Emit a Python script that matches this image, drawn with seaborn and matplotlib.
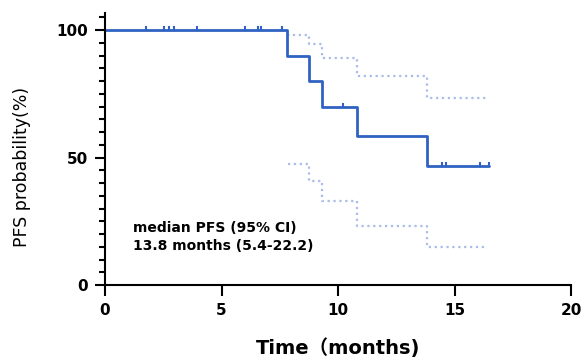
import numpy as np
import pandas as pd
import seaborn as sns
import matplotlib.pyplot as plt
from matplotlib.path import Path
from matplotlib.ticker import MultipleLocator

# Kaplan-Meier step curve (months, %)
step_times = [0, 7.8, 8.75, 9.3, 10.8, 13.8, 16.5]
surv = [100, 90, 80, 70, 58.3, 46.7, 46.7]

# censored observations
censor_times = [1.78, 2.55, 2.76, 2.96, 3.96, 6.0, 6.55, 6.7, 7.6, 10.2, 14.45, 14.65, 16.1, 16.5]
censor_surv = [100, 100, 100, 100, 100, 100, 100, 100, 100, 70, 46.7, 46.7, 46.7, 46.7]

# 95% confidence band
upper_times = [7.8, 8.75, 9.3, 10.8, 13.8, 16.5]
upper_vals = [98, 94.5, 89, 82, 73.2, 73.2]
lower_times = [7.85, 8.75, 9.3, 10.8, 13.8, 16.4]
lower_vals = [47.4, 40.8, 32.9, 23.3, 15, 15]

annot_lines = ["median PFS (95% CI)", "13.8 months (5.4-22.2)"]

sns.set_style("ticks")
plt.rcParams['font.family'] = ['DejaVu Sans', 'Noto Sans CJK SC']
plt.rcParams['text.color'] = 'black'
plt.rcParams['axes.labelcolor'] = 'black'
plt.rcParams['xtick.color'] = 'black'
plt.rcParams['ytick.color'] = 'black'
plt.rcParams['axes.edgecolor'] = 'black'

main_color = "#2f62c2"
ci_color = "#a9bde8"

fig = plt.figure(figsize=(5.86, 3.61), dpi=100)
ax = fig.add_axes([0.1792, 0.2105, 0.7952, 0.7535])

sns.lineplot(x=upper_times, y=upper_vals, drawstyle="steps-post", color=ci_color,
             linestyle=":", linewidth=1.6, ax=ax)
sns.lineplot(x=lower_times, y=lower_vals, drawstyle="steps-post", color=ci_color,
             linestyle=":", linewidth=1.6, ax=ax)
sns.lineplot(x=step_times, y=surv, drawstyle="steps-post", color=main_color,
             linewidth=2.0, ax=ax)

# censor ticks drawn upward from the curve
tick_mark = Path([(0, 0), (0, 1)])
ax.plot(censor_times, censor_surv, linestyle="none", marker=tick_mark,
        markersize=6, markeredgewidth=1.5, color=main_color)

ax.text(1.2, 20.8, annot_lines[0], fontsize=10, fontweight="bold")
ax.text(1.2, 13.8, annot_lines[1], fontsize=10, fontweight="bold")

ax.set_xlim(0, 20)
ax.set_ylim(0, 106.7)
ax.set_xticks([0, 5, 10, 15, 20])
ax.set_yticks([0, 50, 100])
ax.yaxis.set_minor_locator(MultipleLocator(5))
ax.tick_params(axis="x", which="major", length=8, width=1.5, labelsize=11, pad=5)
ax.tick_params(axis="y", which="major", length=7.5, width=1.5, labelsize=11, pad=5)
ax.tick_params(axis="y", which="minor", length=4.5, width=1.5)
for lab in ax.get_xticklabels() + ax.get_yticklabels():
    lab.set_fontweight("bold")

ax.set_xlabel("Time（months)", fontsize=14, fontweight="bold")
ax.set_ylabel("PFS probability(%)", fontsize=12.5)
ax.xaxis.set_label_coords(0.5, -0.195)
ax.yaxis.set_label_coords(-0.158, 0.434)

sns.despine(ax=ax)
for side in ["left", "bottom"]:
    ax.spines[side].set_linewidth(1.5)

fig.savefig("out.png", dpi=100)
